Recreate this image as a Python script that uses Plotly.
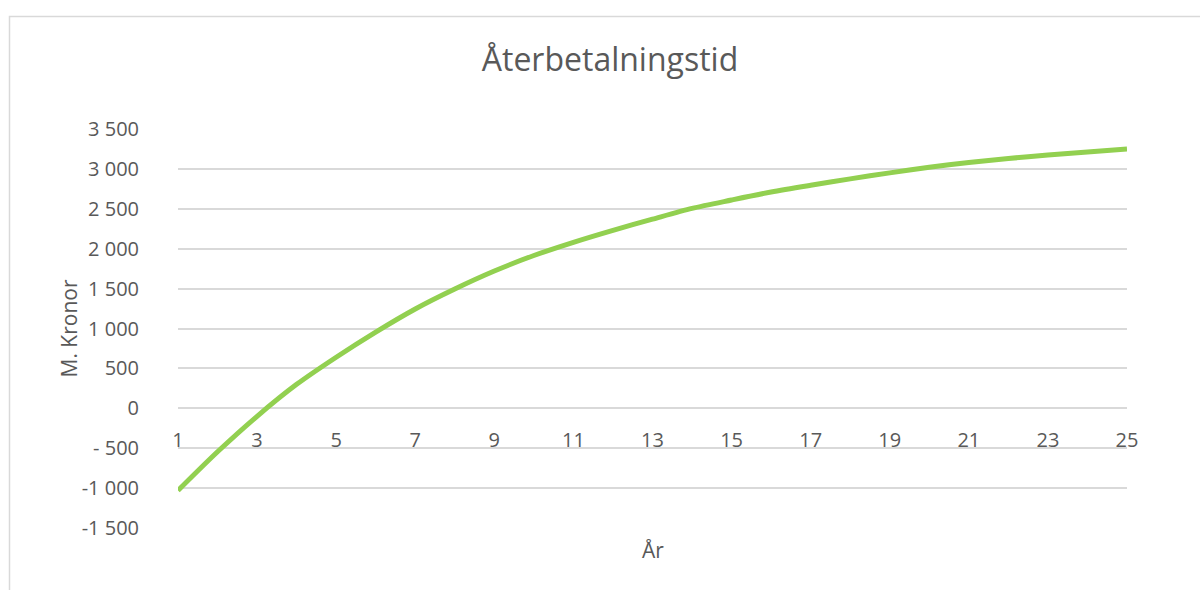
import plotly.graph_objects as go

# Payback curve: cumulative result per year (millions of SEK)
years = list(range(1, 26))
cumulative = [-1030, -545, -100, 300, 640, 955, 1245, 1495, 1720, 1915,
              2080, 2230, 2370, 2505, 2610, 2710, 2795, 2875, 2950, 3020,
              3080, 3130, 3175, 3212, 3248]

x_tick_vals = list(range(1, 26, 2))
x_tick_text = [str(v) for v in x_tick_vals]
y_tick_vals = [-1500, -1000, -500, 0, 500, 1000, 1500, 2000, 2500, 3000, 3500]
y_tick_text = ["-1 500", "-1 000", "- 500", "0", "500", "1 000", "1 500",
               "2 000", "2 500", "3 000", "3 500"]

W, H = 1200, 590
L, R, T, B = 178, 73, 129, 62
plot_w = W - L - R
plot_h = H - T - B

FONT = "Open Sans"
TXT = "#595959"
GRID = "#d9d9d9"

y_min, y_max = -1500, 3500
zero_pos = (0 - y_min) / (y_max - y_min)

fig = go.Figure()
fig.add_trace(go.Scatter(
    x=years, y=cumulative, mode="lines",
    line=dict(color="#92D050", width=5, shape="spline", smoothing=0.8),
    hoverinfo="x+y", showlegend=False,
))

fig.update_layout(
    width=W, height=H,
    margin=dict(l=L, r=R, t=T, b=B, autoexpand=False),
    paper_bgcolor="white", plot_bgcolor="white",
    font=dict(family=FONT, color=TXT, size=20),
    title=dict(text="Återbetalningstid", x=610 / W, xanchor="center",
               y=1 - 60 / H, yanchor="middle",
               font=dict(family=FONT, size=32, color=TXT)),
    xaxis=dict(range=[1, 25], tickmode="array", tickvals=x_tick_vals,
               ticktext=x_tick_text, showgrid=False, zeroline=False,
               showline=False, ticks="", anchor="free", position=zero_pos,
               ticklabelstandoff=18, automargin=False,
               tickfont=dict(family=FONT, size=20, color=TXT)),
    yaxis=dict(range=[y_min, y_max], tickmode="array", tickvals=y_tick_vals,
               ticktext=y_tick_text, showgrid=True, gridcolor=GRID, gridwidth=1.5,
               zeroline=False, showline=False, ticks="", ticklabelstandoff=38,
               automargin=False,
               tickfont=dict(family=FONT, size=20, color=TXT)),
    shapes=[dict(type="rect", xref="paper", yref="paper",
                 x0=(9.5 - L) / plot_w, x1=(W + 5 - L) / plot_w,
                 y0=-(B + 5) / plot_h, y1=(H - B - 16.5) / plot_h,
                 line=dict(color=GRID, width=1.5), fillcolor="rgba(0,0,0,0)",
                 layer="below")],
    annotations=[
        dict(text="M. Kronor", xref="paper", yref="paper",
             x=(68 - L) / plot_w, y=0.5, textangle=-90, showarrow=False,
             xanchor="center", yanchor="middle",
             font=dict(family=FONT, size=21, color=TXT)),
        dict(text="År", xref="paper", yref="paper",
             x=0.5, y=-(550 - (H - B)) / plot_h, showarrow=False,
             xanchor="center", yanchor="middle",
             font=dict(family=FONT, size=21, color=TXT)),
    ],
)

fig.write_html("out.html")
